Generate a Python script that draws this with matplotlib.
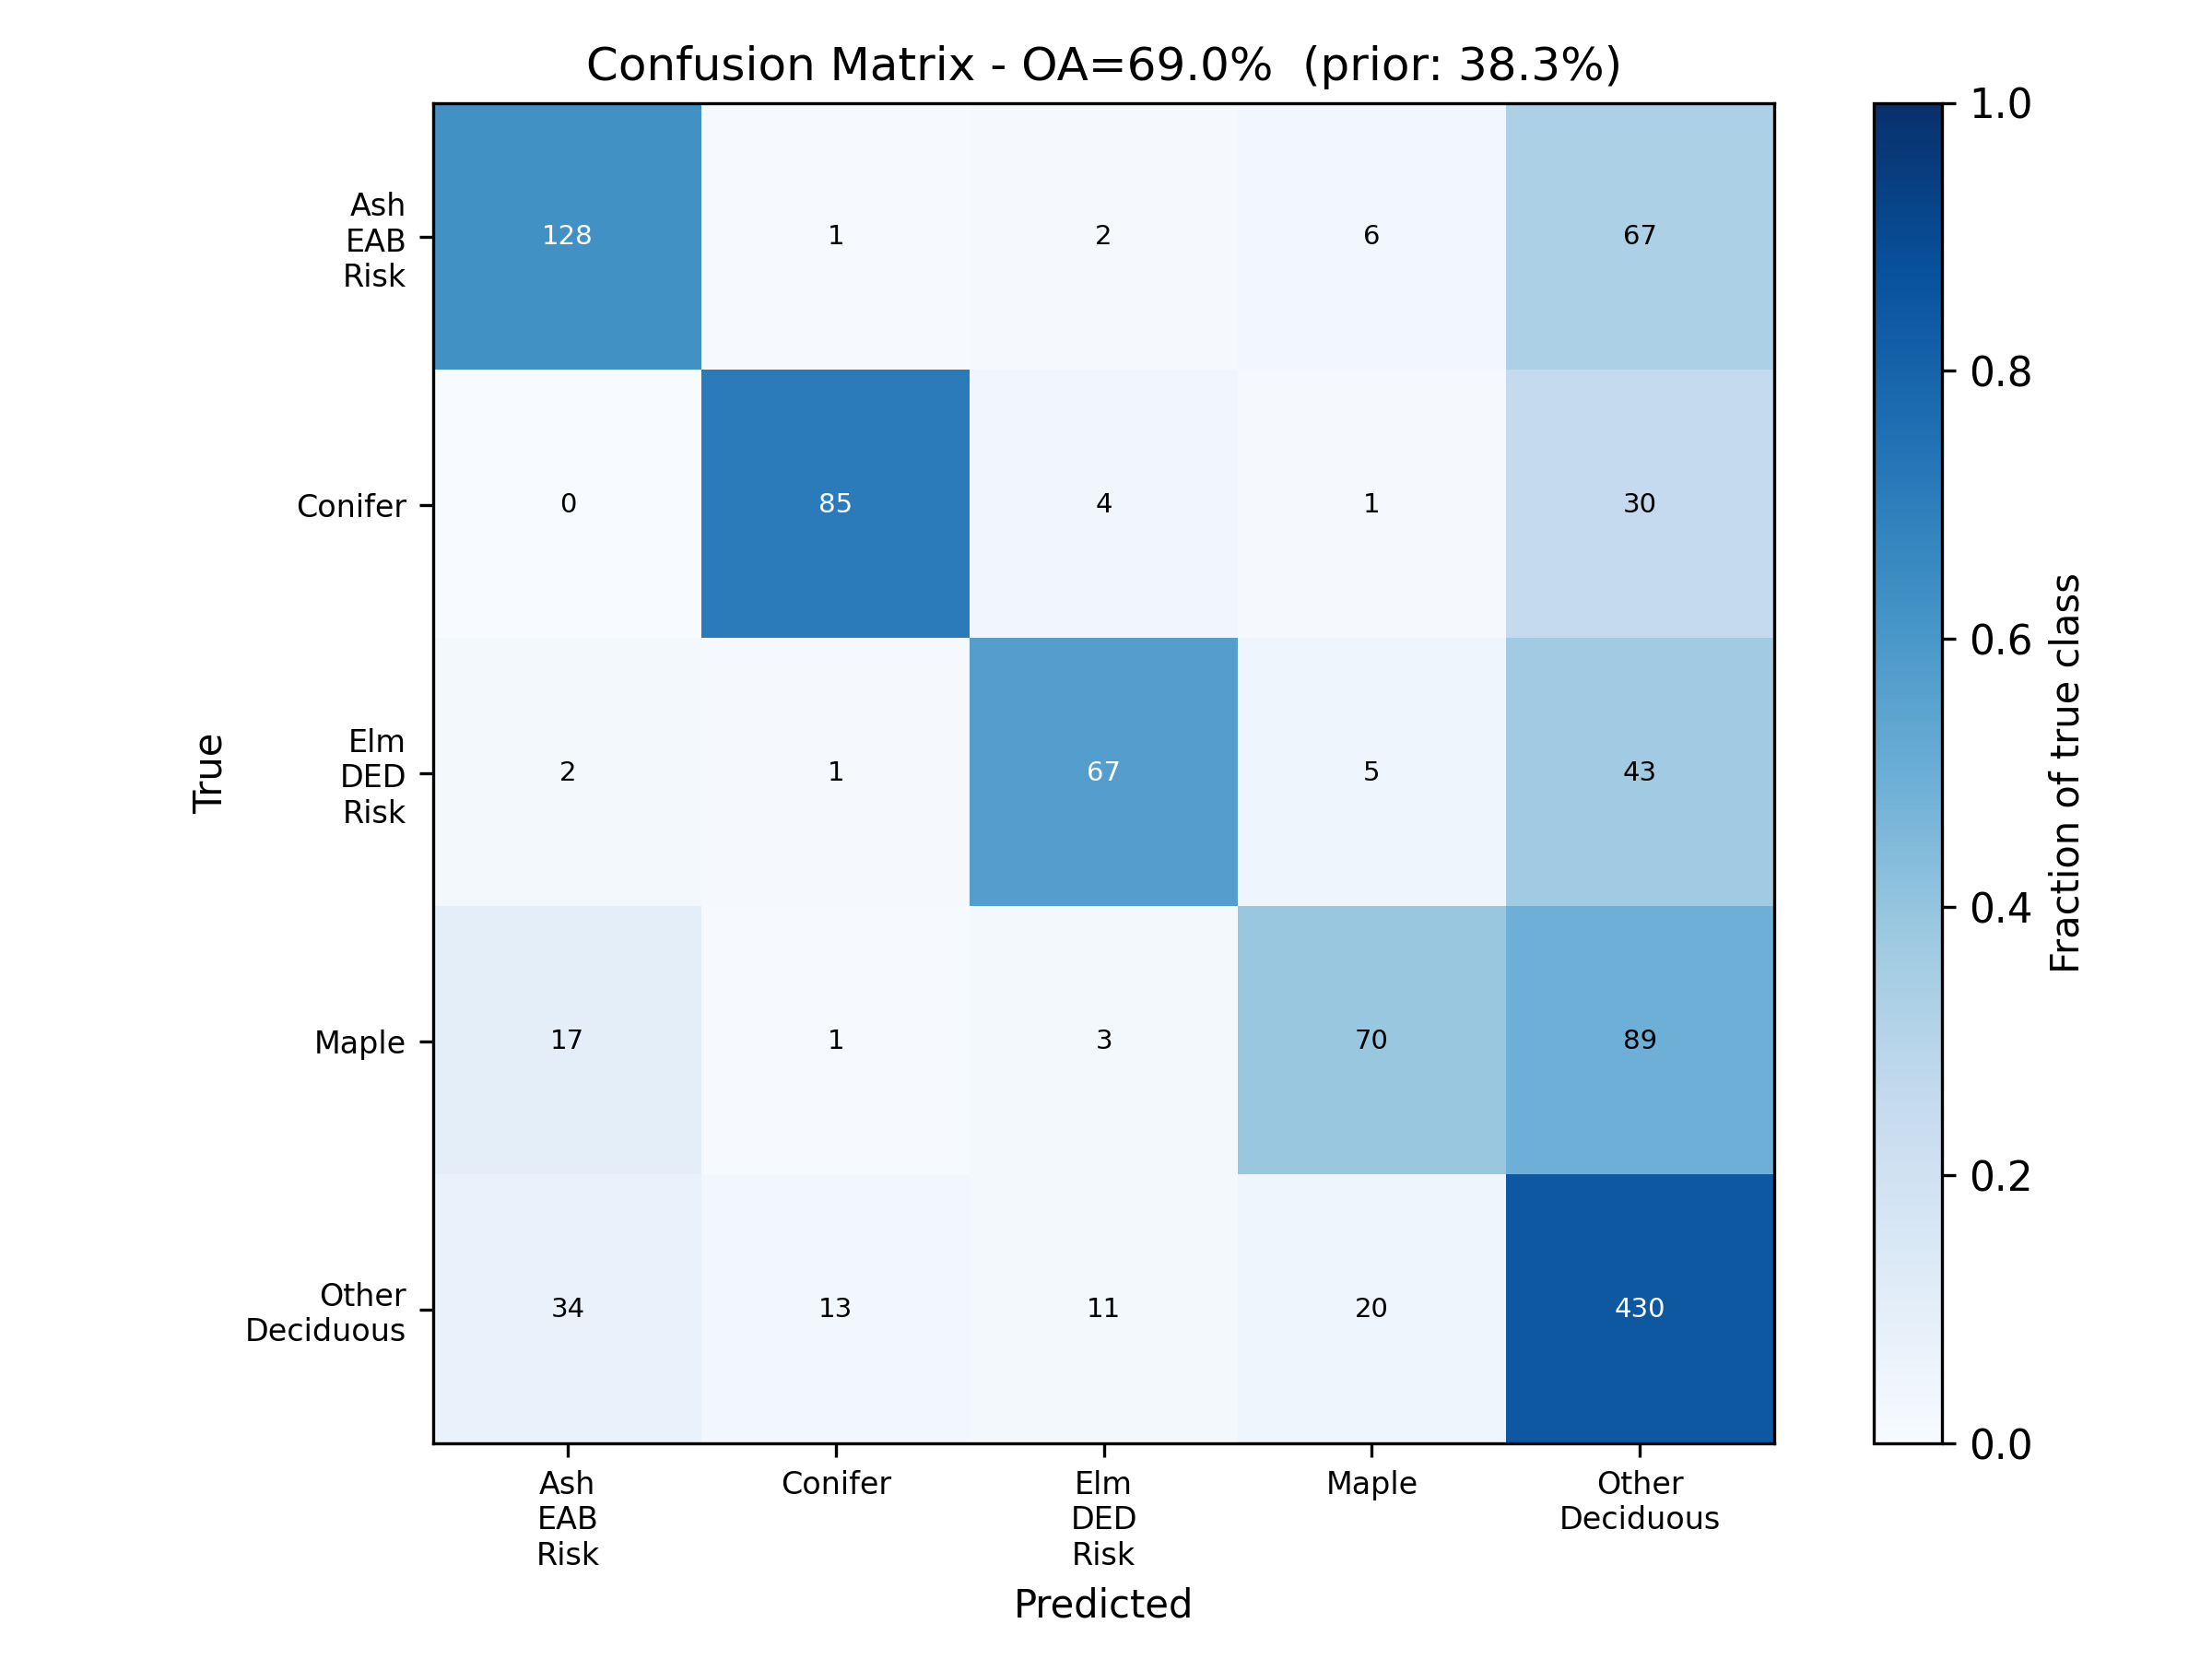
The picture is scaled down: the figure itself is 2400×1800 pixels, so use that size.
import numpy as np
import matplotlib
matplotlib.use("Agg")
import matplotlib.pyplot as plt

classes = ["Ash\nEAB\nRisk", "Conifer", "Elm\nDED\nRisk", "Maple", "Other\nDeciduous"]
counts = np.array([
    [128, 1, 2, 6, 67],
    [0, 85, 4, 1, 30],
    [2, 1, 67, 5, 43],
    [17, 1, 3, 70, 89],
    [34, 13, 11, 20, 430],
])
title = "Confusion Matrix - OA=69.0%  (prior: 38.3%)"

frac = counts / counts.sum(axis=1, keepdims=True)

fig = plt.figure(figsize=(8, 6), dpi=300)
ax = fig.add_axes([0.196, 0.130, 0.606, 0.808])
cax = fig.add_axes([0.847, 0.130, 0.031, 0.808])
im = ax.imshow(frac, cmap="Blues", vmin=0, vmax=1, aspect="auto")
cb = fig.colorbar(im, cax=cax)
cb.set_label("Fraction of true class", fontsize=10)
cb.ax.tick_params(labelsize=10.5)

ax.set_xticks(range(len(classes)))
ax.set_yticks(range(len(classes)))
ax.set_xticklabels(classes, fontsize=8)
ax.set_yticklabels(classes, fontsize=8)
ax.set_xlabel("Predicted", fontsize=10)
ax.set_ylabel("True", fontsize=10)
ax.set_title(title, fontsize=12)

for i in range(counts.shape[0]):
    for j in range(counts.shape[1]):
        ax.text(j, i, str(counts[i, j]), ha="center", va="center", fontsize=7,
                color="white" if frac[i, j] > 0.5 else "black")

fig.savefig("out.png", dpi=300)
